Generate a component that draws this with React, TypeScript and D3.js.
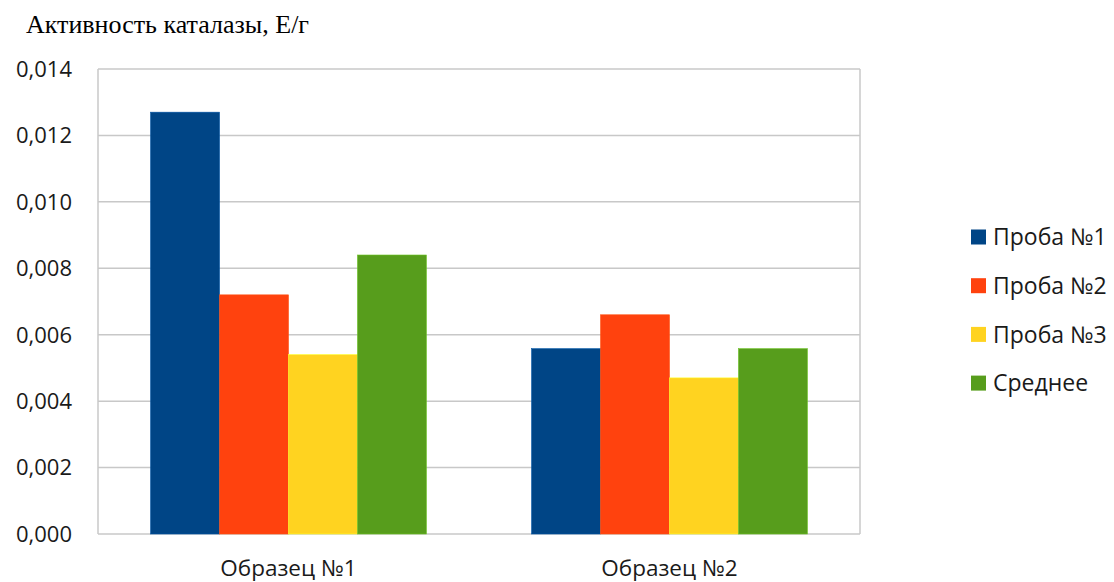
import React from "react";
import * as d3 from "d3";

const categories = ["Образец №1", "Образец №2"];
const seriesNames = ["Проба №1", "Проба №2", "Проба №3", "Среднее"];
const proba1 = [0.0127, 0.00558];
const proba2 = [0.0072, 0.0066];
const proba3 = [0.0054, 0.0047];
const srednee = [0.0084, 0.00558];
const yTicks = [0, 0.002, 0.004, 0.006, 0.008, 0.01, 0.012, 0.014];
const colors = ["#004586", "#ff420e", "#ffd320", "#579d1c"];
const title = "Активность каталазы, Е/г";

const W = 1114, H = 582;
const plot = { left: 98, right: 860, top: 69, bottom: 534 };
const sansFont = "'Open Sans', 'Noto Sans', sans-serif";

export default function App() {
  const seriesValues = [proba1, proba2, proba3, srednee];
  const x0 = d3.scaleBand<string>().domain(categories).range([plot.left, plot.right]).paddingInner(0.276).paddingOuter(0.138);
  const x1 = d3.scaleBand<string>().domain(seriesNames).range([0, x0.bandwidth()]);
  const y = d3.scaleLinear().domain([0, 0.014]).range([plot.bottom, plot.top]);
  const fmt = (v: number) => d3.format(".3f")(v).replace(".", ",");

  return (
    <svg width={W} height={H} style={{ position: "absolute", left: 0, top: 0, background: "#fff" }}>
      <rect x={0} y={0} width={W} height={H} fill="#fff" />
      <text x={26} y={33} fontFamily="'Liberation Serif', 'Times New Roman', serif" fontSize={26} fill="#000">{title}</text>
      {yTicks.map((t) => (
        <g key={t}>
          <line x1={plot.left} x2={plot.right} y1={y(t)} y2={y(t)} stroke="#c8c8c8" strokeWidth={1.5} />
          <text x={72} y={y(t)} dy="0.36em" textAnchor="end" fontFamily={sansFont} fontSize={22} fill="#1a1a1a">{fmt(t)}</text>
        </g>
      ))}
      <line x1={plot.left} x2={plot.left} y1={plot.top} y2={plot.bottom} stroke="#c8c8c8" strokeWidth={1.5} />
      <line x1={plot.right} x2={plot.right} y1={plot.top} y2={plot.bottom} stroke="#c8c8c8" strokeWidth={1.5} />
      {categories.map((c, ci) => (
        <g key={c}>
          {seriesNames.map((s, si) => {
            const v = seriesValues[si][ci];
            const bx = (x0(c) as number) + (x1(s) as number);
            return (
              <rect key={s} x={bx} y={y(v)} width={x1.bandwidth()} height={plot.bottom - y(v)} fill={colors[si]} stroke={d3.color(colors[si])!.brighter(0.6).formatHex()} strokeWidth={0.6} />
            );
          })}
          <text x={(x0(c) as number) + x0.bandwidth() / 2} y={576} textAnchor="middle" fontFamily={sansFont} fontSize={22.5} fill="#1a1a1a">{c}</text>
        </g>
      ))}
      {seriesNames.map((s, si) => {
        const cy = 237 + si * 48.7;
        return (
          <g key={s}>
            <rect x={971} y={cy - 7.5} width={15} height={15} fill={colors[si]} />
            <text x={993} y={cy} dy="0.36em" fontFamily={sansFont} fontSize={23} fill="#1a1a1a">{s}</text>
          </g>
        );
      })}
    </svg>
  );
}
